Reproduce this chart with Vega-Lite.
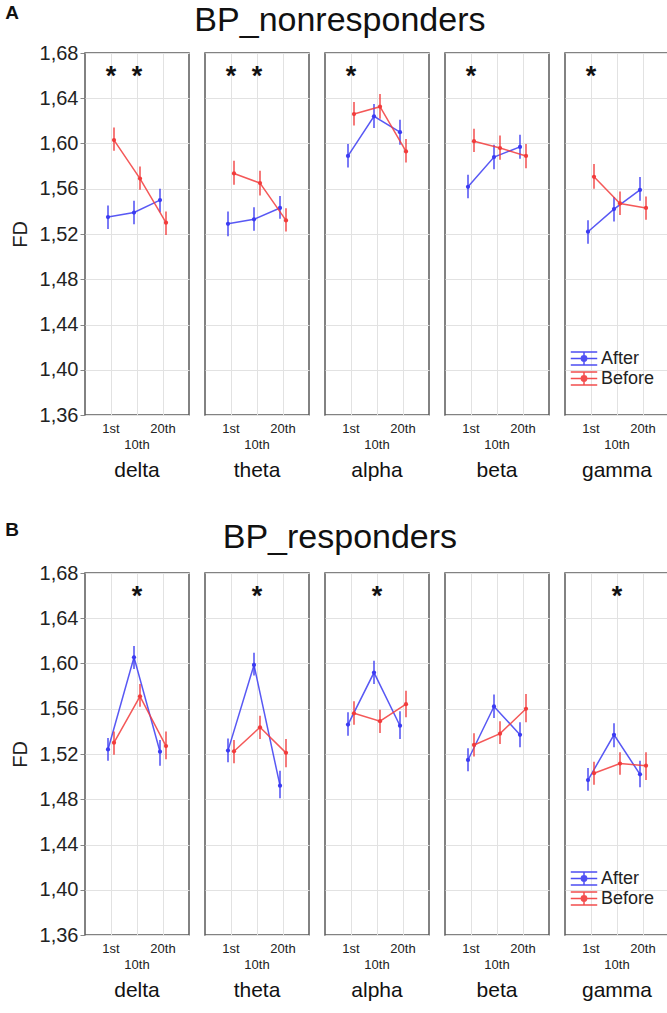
{
  "$schema": "https://vega.github.io/schema/vega-lite/v6.json",
  "background": "white",
  "padding": {"left": 5, "top": 4, "right": 4, "bottom": 4},
  "config": {
    "font": "Liberation Sans",
    "view": {"stroke": "#5a5a5a", "strokeWidth": 1.5},
    "axis": {"gridColor": "#e2e2e2", "gridWidth": 1, "labelColor": "#222222", "titleColor": "#222222"},
    "header": {"labelFont": "Liberation Sans", "labelColor": "#111111"},
    "title": {"font": "Liberation Sans", "color": "#111111"}
  },
  "data": {"values": [
    {"panel": "A", "band": "delta", "session": "1st", "group": "After", "fd": 1.535, "lo": 1.5245, "hi": 1.5452, "sig": "*"},
    {"panel": "A", "band": "delta", "session": "1st", "group": "Before", "fd": 1.603, "lo": 1.5936, "hi": 1.6142, "sig": "*"},
    {"panel": "A", "band": "delta", "session": "10th", "group": "After", "fd": 1.539, "lo": 1.5287, "hi": 1.5493, "sig": "*"},
    {"panel": "A", "band": "delta", "session": "10th", "group": "Before", "fd": 1.569, "lo": 1.5591, "hi": 1.5797, "sig": "*"},
    {"panel": "A", "band": "delta", "session": "20th", "group": "After", "fd": 1.550, "lo": 1.5393, "hi": 1.5599, "sig": ""},
    {"panel": "A", "band": "delta", "session": "20th", "group": "Before", "fd": 1.530, "lo": 1.5192, "hi": 1.5399, "sig": ""},
    {"panel": "A", "band": "theta", "session": "1st", "group": "After", "fd": 1.529, "lo": 1.5181, "hi": 1.5399, "sig": "*"},
    {"panel": "A", "band": "theta", "session": "1st", "group": "Before", "fd": 1.5735, "lo": 1.5635, "hi": 1.5847, "sig": "*"},
    {"panel": "A", "band": "theta", "session": "10th", "group": "After", "fd": 1.533, "lo": 1.5228, "hi": 1.5437, "sig": "*"},
    {"panel": "A", "band": "theta", "session": "10th", "group": "Before", "fd": 1.565, "lo": 1.5540, "hi": 1.5759, "sig": "*"},
    {"panel": "A", "band": "theta", "session": "20th", "group": "After", "fd": 1.543, "lo": 1.5334, "hi": 1.5537, "sig": ""},
    {"panel": "A", "band": "theta", "session": "20th", "group": "Before", "fd": 1.532, "lo": 1.5222, "hi": 1.5428, "sig": ""},
    {"panel": "A", "band": "alpha", "session": "1st", "group": "After", "fd": 1.589, "lo": 1.5788, "hi": 1.5995, "sig": "*"},
    {"panel": "A", "band": "alpha", "session": "1st", "group": "Before", "fd": 1.626, "lo": 1.6160, "hi": 1.6366, "sig": "*"},
    {"panel": "A", "band": "alpha", "session": "10th", "group": "After", "fd": 1.624, "lo": 1.6136, "hi": 1.6349, "sig": ""},
    {"panel": "A", "band": "alpha", "session": "10th", "group": "Before", "fd": 1.6325, "lo": 1.6219, "hi": 1.6437, "sig": ""},
    {"panel": "A", "band": "alpha", "session": "20th", "group": "After", "fd": 1.610, "lo": 1.5989, "hi": 1.6210, "sig": ""},
    {"panel": "A", "band": "alpha", "session": "20th", "group": "Before", "fd": 1.593, "lo": 1.5832, "hi": 1.6039, "sig": ""},
    {"panel": "A", "band": "beta", "session": "1st", "group": "After", "fd": 1.5617, "lo": 1.5517, "hi": 1.5723, "sig": "*"},
    {"panel": "A", "band": "beta", "session": "1st", "group": "Before", "fd": 1.602, "lo": 1.5924, "hi": 1.6130, "sig": "*"},
    {"panel": "A", "band": "beta", "session": "10th", "group": "After", "fd": 1.588, "lo": 1.5773, "hi": 1.5989, "sig": ""},
    {"panel": "A", "band": "beta", "session": "10th", "group": "Before", "fd": 1.596, "lo": 1.5856, "hi": 1.6071, "sig": ""},
    {"panel": "A", "band": "beta", "session": "20th", "group": "After", "fd": 1.597, "lo": 1.5865, "hi": 1.6077, "sig": ""},
    {"panel": "A", "band": "beta", "session": "20th", "group": "Before", "fd": 1.589, "lo": 1.5782, "hi": 1.5995, "sig": ""},
    {"panel": "A", "band": "gamma", "session": "1st", "group": "After", "fd": 1.522, "lo": 1.5113, "hi": 1.5322, "sig": "*"},
    {"panel": "A", "band": "gamma", "session": "1st", "group": "Before", "fd": 1.5706, "lo": 1.5599, "hi": 1.5818, "sig": "*"},
    {"panel": "A", "band": "gamma", "session": "10th", "group": "After", "fd": 1.542, "lo": 1.5310, "hi": 1.5526, "sig": ""},
    {"panel": "A", "band": "gamma", "session": "10th", "group": "Before", "fd": 1.547, "lo": 1.5369, "hi": 1.5576, "sig": ""},
    {"panel": "A", "band": "gamma", "session": "20th", "group": "After", "fd": 1.559, "lo": 1.5493, "hi": 1.5703, "sig": ""},
    {"panel": "A", "band": "gamma", "session": "20th", "group": "Before", "fd": 1.543, "lo": 1.5325, "hi": 1.5532, "sig": ""},
    {"panel": "B", "band": "delta", "session": "1st", "group": "After", "fd": 1.524, "lo": 1.5141, "hi": 1.5342, "sig": ""},
    {"panel": "B", "band": "delta", "session": "1st", "group": "Before", "fd": 1.530, "lo": 1.5194, "hi": 1.5400, "sig": ""},
    {"panel": "B", "band": "delta", "session": "10th", "group": "After", "fd": 1.6055, "lo": 1.5951, "hi": 1.6155, "sig": "*"},
    {"panel": "B", "band": "delta", "session": "10th", "group": "Before", "fd": 1.571, "lo": 1.5618, "hi": 1.5819, "sig": "*"},
    {"panel": "B", "band": "delta", "session": "20th", "group": "After", "fd": 1.522, "lo": 1.5097, "hi": 1.5324, "sig": ""},
    {"panel": "B", "band": "delta", "session": "20th", "group": "Before", "fd": 1.527, "lo": 1.5153, "hi": 1.5400, "sig": ""},
    {"panel": "B", "band": "theta", "session": "1st", "group": "After", "fd": 1.523, "lo": 1.5126, "hi": 1.5336, "sig": ""},
    {"panel": "B", "band": "theta", "session": "1st", "group": "Before", "fd": 1.5224, "lo": 1.5118, "hi": 1.5324, "sig": ""},
    {"panel": "B", "band": "theta", "session": "10th", "group": "After", "fd": 1.5987, "lo": 1.5893, "hi": 1.6096, "sig": "*"},
    {"panel": "B", "band": "theta", "session": "10th", "group": "Before", "fd": 1.5436, "lo": 1.5333, "hi": 1.5539, "sig": "*"},
    {"panel": "B", "band": "theta", "session": "20th", "group": "After", "fd": 1.492, "lo": 1.4808, "hi": 1.5053, "sig": ""},
    {"panel": "B", "band": "theta", "session": "20th", "group": "Before", "fd": 1.521, "lo": 1.5082, "hi": 1.5333, "sig": ""},
    {"panel": "B", "band": "alpha", "session": "1st", "group": "After", "fd": 1.546, "lo": 1.5362, "hi": 1.5568, "sig": ""},
    {"panel": "B", "band": "alpha", "session": "1st", "group": "Before", "fd": 1.556, "lo": 1.5459, "hi": 1.5666, "sig": ""},
    {"panel": "B", "band": "alpha", "session": "10th", "group": "After", "fd": 1.592, "lo": 1.5819, "hi": 1.6025, "sig": "*"},
    {"panel": "B", "band": "alpha", "session": "10th", "group": "Before", "fd": 1.549, "lo": 1.5386, "hi": 1.5592, "sig": "*"},
    {"panel": "B", "band": "alpha", "session": "20th", "group": "After", "fd": 1.545, "lo": 1.5333, "hi": 1.5577, "sig": ""},
    {"panel": "B", "band": "alpha", "session": "20th", "group": "Before", "fd": 1.564, "lo": 1.5524, "hi": 1.5760, "sig": ""},
    {"panel": "B", "band": "beta", "session": "1st", "group": "After", "fd": 1.5147, "lo": 1.5047, "hi": 1.5250, "sig": ""},
    {"panel": "B", "band": "beta", "session": "1st", "group": "Before", "fd": 1.528, "lo": 1.5177, "hi": 1.5383, "sig": ""},
    {"panel": "B", "band": "beta", "session": "10th", "group": "After", "fd": 1.562, "lo": 1.5518, "hi": 1.5725, "sig": ""},
    {"panel": "B", "band": "beta", "session": "10th", "group": "Before", "fd": 1.538, "lo": 1.5289, "hi": 1.5489, "sig": ""},
    {"panel": "B", "band": "beta", "session": "20th", "group": "After", "fd": 1.537, "lo": 1.5259, "hi": 1.5480, "sig": ""},
    {"panel": "B", "band": "beta", "session": "20th", "group": "Before", "fd": 1.560, "lo": 1.5480, "hi": 1.5730, "sig": ""},
    {"panel": "B", "band": "gamma", "session": "1st", "group": "After", "fd": 1.497, "lo": 1.4876, "hi": 1.5076, "sig": ""},
    {"panel": "B", "band": "gamma", "session": "1st", "group": "Before", "fd": 1.503, "lo": 1.4929, "hi": 1.5132, "sig": ""},
    {"panel": "B", "band": "gamma", "session": "10th", "group": "After", "fd": 1.537, "lo": 1.5259, "hi": 1.5471, "sig": "*"},
    {"panel": "B", "band": "gamma", "session": "10th", "group": "Before", "fd": 1.5115, "lo": 1.5017, "hi": 1.5215, "sig": "*"},
    {"panel": "B", "band": "gamma", "session": "20th", "group": "After", "fd": 1.502, "lo": 1.4905, "hi": 1.5141, "sig": ""},
    {"panel": "B", "band": "gamma", "session": "20th", "group": "Before", "fd": 1.5097, "lo": 1.4970, "hi": 1.5215, "sig": ""}
  ]},
  "resolve": {"legend": {"color": "independent"}},
  "spacing": 40,
  "vconcat": [
    {
      "title": {"text": "A", "orient": "left", "anchor": "end", "angle": 0, "fontSize": 19, "fontWeight": "bold", "baseline": "top", "align": "left", "offset": -9},
      "vconcat": [
        {
          "title": {"text": "BP_nonresponders", "fontSize": 34, "fontWeight": "normal", "anchor": "middle", "frame": "bounds", "offset": 5},
          "transform": [{"filter": "datum.panel == 'A'"}],
          "spacing": 14,
          "facet": {"column": {"field": "band", "type": "nominal", "sort": ["delta", "theta", "alpha", "beta", "gamma"], "title": null,
            "header": {"labelOrient": "bottom", "labelFontSize": 21, "labelPadding": 9}}},
          "spec": {
            "width": 104, "height": 362,
            "encoding": {
              "x": {"field": "session", "type": "ordinal", "sort": ["1st", "10th", "20th"],
                "scale": {"type": "band", "paddingInner": 0, "paddingOuter": 0.5},
                "axis": {"title": null, "labelAngle": 0, "labelFontSize": 13, "ticks": false, "domain": false, "grid": true, "labelPadding": 6, "labelLineHeight": 16,
                  "labelExpr": "datum.value == '10th' ? ['', '10th'] : datum.value"}},
              "y": {"field": "fd", "type": "quantitative",
                "scale": {"domain": [1.36, 1.68], "nice": false, "zero": false},
                "axis": {"title": "FD", "titleFontSize": 20, "titleFontWeight": "normal", "titlePadding": 9, "labelFontSize": 20, "tickSize": 4, "tickColor": "#888888", "labelPadding": 2, "domain": false,
                  "values": [1.36, 1.40, 1.44, 1.48, 1.52, 1.56, 1.60, 1.64, 1.68],
                  "labelExpr": "replace(format(datum.value, '.2f'), '.', ',')"}},
              "color": {"field": "group", "type": "nominal",
                "scale": {"domain": ["After", "Before"], "range": ["#3b3bf2", "#f23b3b"]},
                "legend": {"title": null, "orient": "none", "legendX": 485, "legendY": 296, "labelFontSize": 18, "labelColor": "#222222",
                  "symbolType": "M-1,-0.5L1,-0.5M-1,0L1,0M-1,0.5L1,0.5M0,-0.5L0,0.5M0.2,0A0.2,0.2,0,1,1,-0.2,0A0.2,0.2,0,1,1,0.2,0",
                  "symbolSize": 700, "symbolStrokeWidth": 1.5, "symbolFillColor": "transparent", "clipHeight": 19, "rowPadding": 1, "labelOffset": 3}}
            },
            "layer": [
              {"transform": [{"filter": "datum.group == 'After'"}], "mark": {"type": "rule", "xOffset": -3, "strokeWidth": 1.5, "opacity": 0.9},
               "encoding": {"y": {"field": "lo", "type": "quantitative"}, "y2": {"field": "hi"}}},
              {"transform": [{"filter": "datum.group == 'After'"}], "mark": {"type": "line", "xOffset": -3, "strokeWidth": 1.5, "opacity": 0.85}},
              {"transform": [{"filter": "datum.group == 'After'"}], "mark": {"type": "point", "xOffset": -3, "filled": true, "size": 18, "opacity": 1}},
              {"transform": [{"filter": "datum.group == 'Before'"}], "mark": {"type": "rule", "xOffset": 3, "strokeWidth": 1.5, "opacity": 0.9},
               "encoding": {"y": {"field": "lo", "type": "quantitative"}, "y2": {"field": "hi"}}},
              {"transform": [{"filter": "datum.group == 'Before'"}], "mark": {"type": "line", "xOffset": 3, "strokeWidth": 1.5, "opacity": 0.85}},
              {"transform": [{"filter": "datum.group == 'Before'"}], "mark": {"type": "point", "xOffset": 3, "filled": true, "size": 18, "opacity": 1}},
              {"transform": [{"filter": "datum.group == 'After' && datum.sig == '*'"}], "mark": {"type": "text", "fontSize": 27, "fontWeight": "bold", "baseline": "alphabetic", "color": "#111111"},
               "encoding": {"y": {"datum": 1.652}, "text": {"field": "sig"}, "color": {"value": "#111111"}}}
            ]
          }
        }
      ]
    },
    {
      "title": {"text": "B", "orient": "left", "anchor": "end", "angle": 0, "fontSize": 19, "fontWeight": "bold", "baseline": "top", "align": "left", "offset": -9},
      "vconcat": [
        {
          "title": {"text": "BP_responders", "fontSize": 34, "fontWeight": "normal", "anchor": "middle", "frame": "bounds", "offset": 8},
          "transform": [{"filter": "datum.panel == 'B'"}],
          "spacing": 14,
          "facet": {"column": {"field": "band", "type": "nominal", "sort": ["delta", "theta", "alpha", "beta", "gamma"], "title": null,
            "header": {"labelOrient": "bottom", "labelFontSize": 21, "labelPadding": 9}}},
          "spec": {
            "width": 104, "height": 362,
            "encoding": {
              "x": {"field": "session", "type": "ordinal", "sort": ["1st", "10th", "20th"],
                "scale": {"type": "band", "paddingInner": 0, "paddingOuter": 0.5},
                "axis": {"title": null, "labelAngle": 0, "labelFontSize": 13, "ticks": false, "domain": false, "grid": true, "labelPadding": 6, "labelLineHeight": 16,
                  "labelExpr": "datum.value == '10th' ? ['', '10th'] : datum.value"}},
              "y": {"field": "fd", "type": "quantitative",
                "scale": {"domain": [1.36, 1.68], "nice": false, "zero": false},
                "axis": {"title": "FD", "titleFontSize": 20, "titleFontWeight": "normal", "titlePadding": 9, "labelFontSize": 20, "tickSize": 4, "tickColor": "#888888", "labelPadding": 2, "domain": false,
                  "values": [1.36, 1.40, 1.44, 1.48, 1.52, 1.56, 1.60, 1.64, 1.68],
                  "labelExpr": "replace(format(datum.value, '.2f'), '.', ',')"}},
              "color": {"field": "group", "type": "nominal",
                "scale": {"domain": ["After", "Before"], "range": ["#3b3bf2", "#f23b3b"]},
                "legend": {"title": null, "orient": "none", "legendX": 485, "legendY": 296, "labelFontSize": 18, "labelColor": "#222222",
                  "symbolType": "M-1,-0.5L1,-0.5M-1,0L1,0M-1,0.5L1,0.5M0,-0.5L0,0.5M0.2,0A0.2,0.2,0,1,1,-0.2,0A0.2,0.2,0,1,1,0.2,0",
                  "symbolSize": 700, "symbolStrokeWidth": 1.5, "symbolFillColor": "transparent", "clipHeight": 19, "rowPadding": 1, "labelOffset": 3}}
            },
            "layer": [
              {"transform": [{"filter": "datum.group == 'After'"}], "mark": {"type": "rule", "xOffset": -3, "strokeWidth": 1.5, "opacity": 0.9},
               "encoding": {"y": {"field": "lo", "type": "quantitative"}, "y2": {"field": "hi"}}},
              {"transform": [{"filter": "datum.group == 'After'"}], "mark": {"type": "line", "xOffset": -3, "strokeWidth": 1.5, "opacity": 0.85}},
              {"transform": [{"filter": "datum.group == 'After'"}], "mark": {"type": "point", "xOffset": -3, "filled": true, "size": 18, "opacity": 1}},
              {"transform": [{"filter": "datum.group == 'Before'"}], "mark": {"type": "rule", "xOffset": 3, "strokeWidth": 1.5, "opacity": 0.9},
               "encoding": {"y": {"field": "lo", "type": "quantitative"}, "y2": {"field": "hi"}}},
              {"transform": [{"filter": "datum.group == 'Before'"}], "mark": {"type": "line", "xOffset": 3, "strokeWidth": 1.5, "opacity": 0.85}},
              {"transform": [{"filter": "datum.group == 'Before'"}], "mark": {"type": "point", "xOffset": 3, "filled": true, "size": 18, "opacity": 1}},
              {"transform": [{"filter": "datum.group == 'After' && datum.sig == '*'"}], "mark": {"type": "text", "fontSize": 27, "fontWeight": "bold", "baseline": "alphabetic", "color": "#111111"},
               "encoding": {"y": {"datum": 1.652}, "text": {"field": "sig"}, "color": {"value": "#111111"}}}
            ]
          }
        }
      ]
    }
  ]
}
